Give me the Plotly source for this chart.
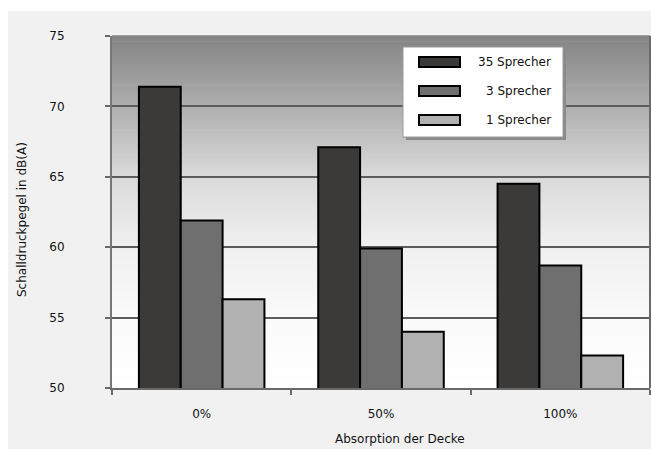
import plotly.graph_objects as go

# Schalldruckpegel je Deckenabsorption und Sprecheranzahl
categories = ["0%", "50%", "100%"]
series_names = ["35 Sprecher", "3 Sprecher", "1 Sprecher"]
val_35 = [71.4, 67.1, 64.5]
val_3 = [61.9, 59.9, 58.7]
val_1 = [56.3, 54.0, 52.3]
y_ticks = [50, 55, 60, 65, 70, 75]

colors = ["#3b3a38", "#6f6f6f", "#b1b1b1"]
FONT = "DejaVu Sans"

W, H = 651, 456
ML, MR, MT, MB = 112, 1, 36, 68
PW, PH = W - ML - MR, H - MT - MB


def px(x):
    return (x - ML) / PW


def py(y):
    return (H - MB - y) / PH


fig = go.Figure()
for name, vals, col in zip(series_names, [val_35, val_3, val_1], colors):
    fig.add_trace(go.Bar(
        x=categories, y=vals, name=name, marker_color=col,
        marker_line=dict(color="#000000", width=2), showlegend=False,
    ))

shapes = []
# white frame around the grey panel
for x0, x1, y0, y1 in [(0, 8, 0, H), (0, W, 0, 11), (0, W, 449, H)]:
    shapes.append(dict(type="rect", xref="paper", yref="paper",
                       x0=px(x0), x1=px(x1), y0=py(y1), y1=py(y0),
                       fillcolor="#ffffff", line=dict(width=0)))

# vertical gradient in the plotting area (dark at top, white at bottom)
stops = [(0.0, 255), (0.2, 250), (0.4, 240), (0.6, 218), (0.8, 175), (1.0, 132)]


def grey_at(f):
    for (f0, g0), (f1, g1) in zip(stops[:-1], stops[1:]):
        if f0 <= f <= f1:
            return g0 + (g1 - g0) * (f - f0) / (f1 - f0)
    return stops[-1][1]


n = 120
for i in range(n):
    f0, f1 = i / n, (i + 1) / n
    g = int(round(grey_at((f0 + f1) / 2)))
    shapes.append(dict(type="rect", xref="paper", yref="paper", layer="below",
                       x0=0, x1=1, y0=f0, y1=f1 + 0.002,
                       fillcolor=f"rgb({g},{g},{g})", line=dict(width=0)))

# right border of the plotting area
shapes.append(dict(type="line", xref="paper", yref="paper", x0=1, x1=1, y0=0, y1=1,
                   line=dict(color="#6a6a6a", width=2)))

# legend box with shadow
lx0, lx1, ly0, ly1 = 403, 563, 47, 137
shapes.append(dict(type="rect", xref="paper", yref="paper",
                   x0=px(lx0 + 3), x1=px(lx1 + 3), y0=py(ly1 + 3), y1=py(ly0 + 3),
                   fillcolor="#8a8a8a", line=dict(width=0)))
shapes.append(dict(type="rect", xref="paper", yref="paper",
                   x0=px(lx0), x1=px(lx1), y0=py(ly1), y1=py(ly0),
                   fillcolor="#ffffff", line=dict(color="#9a9a9a", width=1)))

annotations = []
row_y = [62, 91, 120]
for name, col, yc in zip(series_names, colors, row_y):
    shapes.append(dict(type="rect", xref="paper", yref="paper",
                       x0=px(419), x1=px(460), y0=py(yc + 5), y1=py(yc - 5),
                       fillcolor=col, line=dict(color="#000000", width=2)))
    annotations.append(dict(text=name, xref="paper", yref="paper",
                            x=px(553), y=py(yc), xanchor="right", yanchor="middle",
                            showarrow=False, font=dict(family=FONT, size=12, color="#111111")))

# axis titles
annotations.append(dict(text="Schalldruckpegel in dB(A)", xref="paper", yref="paper",
                        x=px(22), y=py(220), textangle=-90, xanchor="center", yanchor="middle",
                        showarrow=False, font=dict(family=FONT, size=12, color="#111111")))
annotations.append(dict(text="Absorption der Decke", xref="paper", yref="paper",
                        x=px(400), y=py(439), xanchor="center", yanchor="middle",
                        showarrow=False, font=dict(family=FONT, size=12, color="#111111")))

fig.update_layout(
    width=W, height=H,
    margin=dict(l=ML, r=MR, t=MT, b=MB, pad=0),
    paper_bgcolor="#f1f1f1",
    plot_bgcolor="rgba(0,0,0,0)",
    barmode="group", bargap=0.3, bargroupgap=0,
    shapes=shapes, annotations=annotations,
    font=dict(family=FONT, size=12, color="#111111"),
)
fig.update_xaxes(
    showline=True, linecolor="#6a6a6a", linewidth=2,
    ticks="outside", tickson="boundaries", ticklen=5, tickcolor="#6a6a6a", tickwidth=2,
    ticklabelstandoff=14, showgrid=False, automargin=False,
)
fig.update_yaxes(
    range=[50, 75], tickvals=y_ticks, ticktext=[str(v) for v in y_ticks],
    showline=True, linecolor="#777777", linewidth=2,
    ticks="outside", ticklen=5, tickcolor="#6a6a6a", tickwidth=2,
    ticklabelstandoff=38,
    showgrid=True, gridcolor="#5c5c5c", gridwidth=2, zeroline=False, automargin=False,
)

fig.write_html("out.html")
